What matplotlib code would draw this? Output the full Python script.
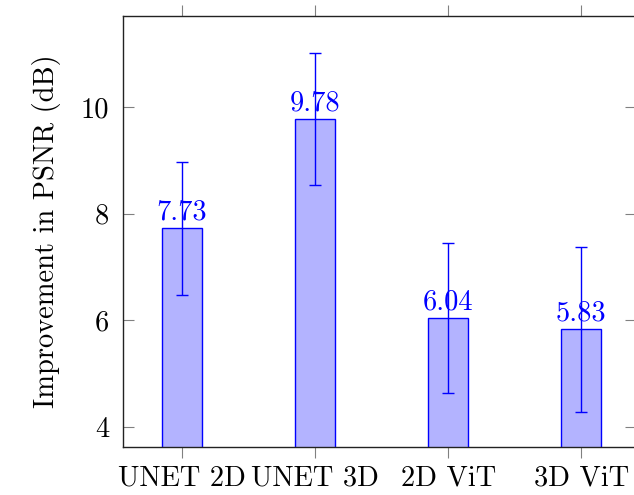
import matplotlib.pyplot as plt
import numpy as np

plt.rcParams['font.family'] = ['cmr10', 'DejaVu Serif']
plt.rcParams['axes.formatter.use_mathtext'] = True
plt.rcParams['mathtext.fontset'] = 'cm'

models = ["UNET 2D", "UNET 3D", "2D ViT", "3D ViT"]
psnr_gain = [7.73, 9.78, 6.04, 5.83]
psnr_err = [1.25, 1.24, 1.41, 1.54]
y_ticks = [4, 6, 8, 10]

W, H = 634, 495
fig = plt.figure(figsize=(W / 100, H / 100), dpi=100)
ax = fig.add_axes([123 / W, 48 / H, 513 / W, 431 / H])

x = np.arange(len(models))
ax.bar(x, psnr_gain, width=0.30, color=(0.7, 0.7, 1.0), edgecolor="blue",
       linewidth=1.0, zorder=2)
ax.errorbar(x, psnr_gain, yerr=psnr_err, fmt="none", ecolor="blue",
            elinewidth=1.0, capsize=4, capthick=1.0, zorder=3)

# value labels just above each bar
for xi, v in zip(x, psnr_gain):
    ax.annotate(f"{v:.2f}", (xi, v), xytext=(0, 2), textcoords="offset points",
                ha="center", va="bottom", color="blue", fontsize=20.5, zorder=4)

ax.set_xlim(-0.444, 3.41)
ax.set_ylim(3.625, 11.71)
ax.set_xticks(x)
ax.set_xticklabels(models, fontsize=20.5)
ax.set_yticks(y_ticks)
ax.set_yticklabels([str(t) for t in y_ticks], fontsize=20.5)
ax.set_ylabel("Improvement in PSNR (dB)", fontsize=20.5, labelpad=14)

ax.tick_params(axis="x", direction="out", top=True, length=8, color="gray",
               width=0.8, pad=5)
ax.tick_params(axis="y", direction="in", right=True, length=8, color="gray",
               width=0.8, pad=10)
for s in ax.spines.values():
    s.set_linewidth(1.0)
    s.set_color("#222222")

fig.savefig("out.png", dpi=100)
